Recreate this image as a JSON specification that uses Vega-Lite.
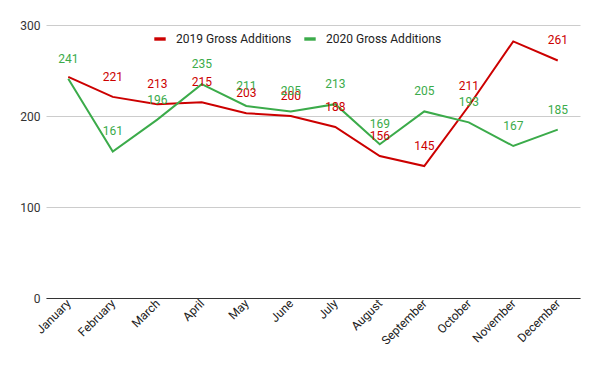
{
  "$schema": "https://vega.github.io/schema/vega-lite/v6.json",
  "autosize": "none",
  "width": 534,
  "height": 273,
  "padding": {"left": 46, "top": 25, "right": 20, "bottom": 73},
  "background": "white",
  "config": {
    "font": "Roboto",
    "view": {"stroke": null}
  },
  "data": {
    "values": [
      {"month": "January", "series": "2019 Gross Additions", "value": 243, "label": ""},
      {"month": "February", "series": "2019 Gross Additions", "value": 221, "label": "221"},
      {"month": "March", "series": "2019 Gross Additions", "value": 213, "label": "213"},
      {"month": "April", "series": "2019 Gross Additions", "value": 215, "label": "215"},
      {"month": "May", "series": "2019 Gross Additions", "value": 203, "label": "203"},
      {"month": "June", "series": "2019 Gross Additions", "value": 200, "label": "200"},
      {"month": "July", "series": "2019 Gross Additions", "value": 188, "label": "188"},
      {"month": "August", "series": "2019 Gross Additions", "value": 156, "label": "156"},
      {"month": "September", "series": "2019 Gross Additions", "value": 145, "label": "145"},
      {"month": "October", "series": "2019 Gross Additions", "value": 211, "label": "211"},
      {"month": "November", "series": "2019 Gross Additions", "value": 282, "label": ""},
      {"month": "December", "series": "2019 Gross Additions", "value": 261, "label": "261"},
      {"month": "January", "series": "2020 Gross Additions", "value": 241, "label": "241"},
      {"month": "February", "series": "2020 Gross Additions", "value": 161, "label": "161"},
      {"month": "March", "series": "2020 Gross Additions", "value": 196, "label": "196"},
      {"month": "April", "series": "2020 Gross Additions", "value": 235, "label": "235"},
      {"month": "May", "series": "2020 Gross Additions", "value": 211, "label": "211"},
      {"month": "June", "series": "2020 Gross Additions", "value": 205, "label": "205"},
      {"month": "July", "series": "2020 Gross Additions", "value": 213, "label": "213"},
      {"month": "August", "series": "2020 Gross Additions", "value": 169, "label": "169"},
      {"month": "September", "series": "2020 Gross Additions", "value": 205, "label": "205"},
      {"month": "October", "series": "2020 Gross Additions", "value": 193, "label": "193"},
      {"month": "November", "series": "2020 Gross Additions", "value": 167, "label": "167"},
      {"month": "December", "series": "2020 Gross Additions", "value": 185, "label": "185"}
    ]
  },
  "encoding": {
    "x": {
      "field": "month",
      "type": "ordinal",
      "sort": null,
      "scale": {"type": "point", "padding": 0.5},
      "axis": {
        "title": null,
        "labelAngle": -45,
        "labelAlign": "right",
        "labelBaseline": "middle",
        "labelFontSize": 12,
        "labelColor": "#222222",
        "labelPadding": 3,
        "ticks": false,
        "domainColor": "#333333",
        "domainWidth": 1
      }
    },
    "y": {
      "field": "value",
      "type": "quantitative",
      "scale": {"domain": [0, 300], "nice": false},
      "axis": {
        "title": null,
        "values": [0, 100, 200, 300],
        "domain": false,
        "ticks": false,
        "gridColor": "#cccccc",
        "labelFontSize": 12,
        "labelColor": "#333333",
        "labelPadding": 6
      }
    },
    "color": {
      "field": "series",
      "type": "nominal",
      "scale": {"range": ["#cc0000", "#3bab4a"]},
      "legend": {
        "title": null,
        "orient": "none",
        "legendX": 108,
        "legendY": 8,
        "direction": "horizontal",
        "labelFontSize": 12,
        "labelColor": "#222222",
        "symbolType": "M-1,-0.3H1V0.3H-1Z",
        "symbolSize": 130,
        "symbolStrokeWidth": 0,
        "columnPadding": 12,
        "labelOffset": 10
      }
    }
  },
  "layer": [
    {
      "mark": {"type": "line", "strokeWidth": 2}
    },
    {
      "mark": {"type": "text", "fontSize": 12, "dy": -20, "baseline": "middle"},
      "encoding": {"text": {"field": "label"}}
    }
  ]
}
